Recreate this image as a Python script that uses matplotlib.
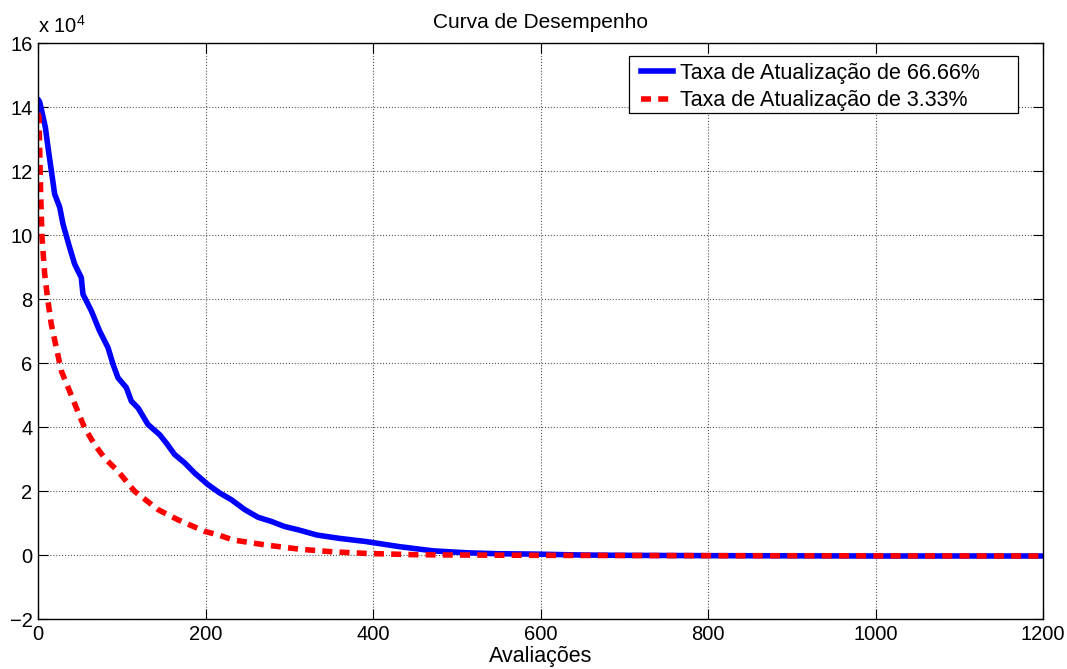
import numpy as np
import matplotlib
matplotlib.use('Agg')
import matplotlib.pyplot as plt
from matplotlib.ticker import FuncFormatter
from matplotlib.patches import Rectangle

plt.rcParams['font.family'] = ['Liberation Sans', 'DejaVu Sans']
plt.rcParams['mathtext.fontset'] = 'custom'
plt.rcParams['mathtext.rm'] = 'Liberation Sans'

# Taxa de Atualização de 66.66% (valores em unidades de 10^4)
x_blue = [1, 2, 8.8, 11.9, 15.9, 19.9, 25.9, 29.9, 37.8, 43.8, 51.7, 53.7,
          63.7, 73.6, 83.6, 89.6, 95.5, 105.5, 111.4, 119.4, 131.3, 145.3,
          153.2, 163.2, 175.1, 187.1, 203, 216.9, 230.8, 246.8, 262.7, 278.6,
          294.5, 310.4, 333, 360, 392, 432, 472, 512, 550, 591, 650, 700,
          800, 1000, 1200]
y_blue = [14.2, 14.16, 13.37, 12.75, 12.02, 11.28, 10.87, 10.34, 9.61, 9.09,
          8.67, 8.15, 7.63, 7.0, 6.48, 5.96, 5.54, 5.23, 4.81, 4.6, 4.08,
          3.76, 3.5, 3.14, 2.88, 2.56, 2.2, 1.94, 1.73, 1.42, 1.18, 1.05,
          0.89, 0.79, 0.625, 0.52, 0.42, 0.26, 0.13, 0.07, 0.04, 0.03, 0.0,
          -0.01, -0.02, -0.03, -0.03]

# Taxa de Atualização de 3.33%
x_red = [0, 1.2, 3.2, 4.8, 8, 11.9, 15.9, 21.9, 27.9, 37.8, 45.8, 55.7, 67.7,
         79.6, 95.5, 115.4, 143.3, 167.2, 199, 215, 233, 273, 313, 352, 392,
         450, 500, 600, 800, 1200]
y_red = [13.8, 13.69, 11.28, 9.93, 8.78, 7.94, 7.21, 6.48, 5.75, 5.12, 4.6,
         3.97, 3.45, 3.03, 2.62, 1.99, 1.42, 1.1, 0.74, 0.63, 0.47, 0.31,
         0.18, 0.10, 0.05, 0.01, 0.0, -0.01, -0.02, -0.03]

scale = 1e4
labels = ['Taxa de Atualização de 66.66%', 'Taxa de Atualização de 3.33%']

fig = plt.figure(figsize=(10.67, 6.69), dpi=100)
ax = fig.add_axes([0.0356, 0.0747, 0.942, 0.861])

ax.plot(x_blue, np.array(y_blue) * scale, '-', color='#0000ff', lw=4.0,
        label=labels[0])
ax.plot(x_red, np.array(y_red) * scale, color='#ff0000', lw=4.0,
        linestyle=(0, (1.8, 1.3)), label=labels[1])

ax.set_xlim(0, 1200)
ax.set_ylim(-2e4, 16e4)
ax.set_xticks(np.arange(0, 1201, 200))
ax.set_yticks(np.arange(-2e4, 16.1e4, 2e4))
ax.yaxis.set_major_formatter(
    FuncFormatter(lambda v, p: ('%g' % (v / scale)).replace('-', '\u2212')))
ax.tick_params(direction='in', length=7, width=0.8, labelsize=14.5,
               top=True, right=True, pad=4)
ax.grid(True, linestyle=':', color='0.35', lw=0.8)
for s in ax.spines.values():
    s.set_linewidth(1.0)

ax.text(0, 1.01, 'x 10$^{4}$', transform=ax.transAxes, ha='left',
        va='bottom', fontsize=14.5)
ax.set_title('Curva de Desempenho', fontsize=15, pad=11)
ax.set_xlabel('Avaliações', fontsize=15.5, labelpad=2)

# caixa da legenda no estilo do MATLAB (espaço extra à direita)
ax.add_patch(Rectangle((0.588, 0.878), 0.387, 0.099, transform=ax.transAxes,
                       facecolor='white', edgecolor='black', lw=0.9,
                       zorder=4))
leg = ax.legend(loc='upper left', bbox_to_anchor=(0.598, 0.969),
                fontsize=15.5, frameon=False, handlelength=1.5,
                handletextpad=0.3, borderpad=0.1, labelspacing=0.3,
                borderaxespad=0)
leg.set_zorder(5)

fig.savefig('out.png', dpi=100)
